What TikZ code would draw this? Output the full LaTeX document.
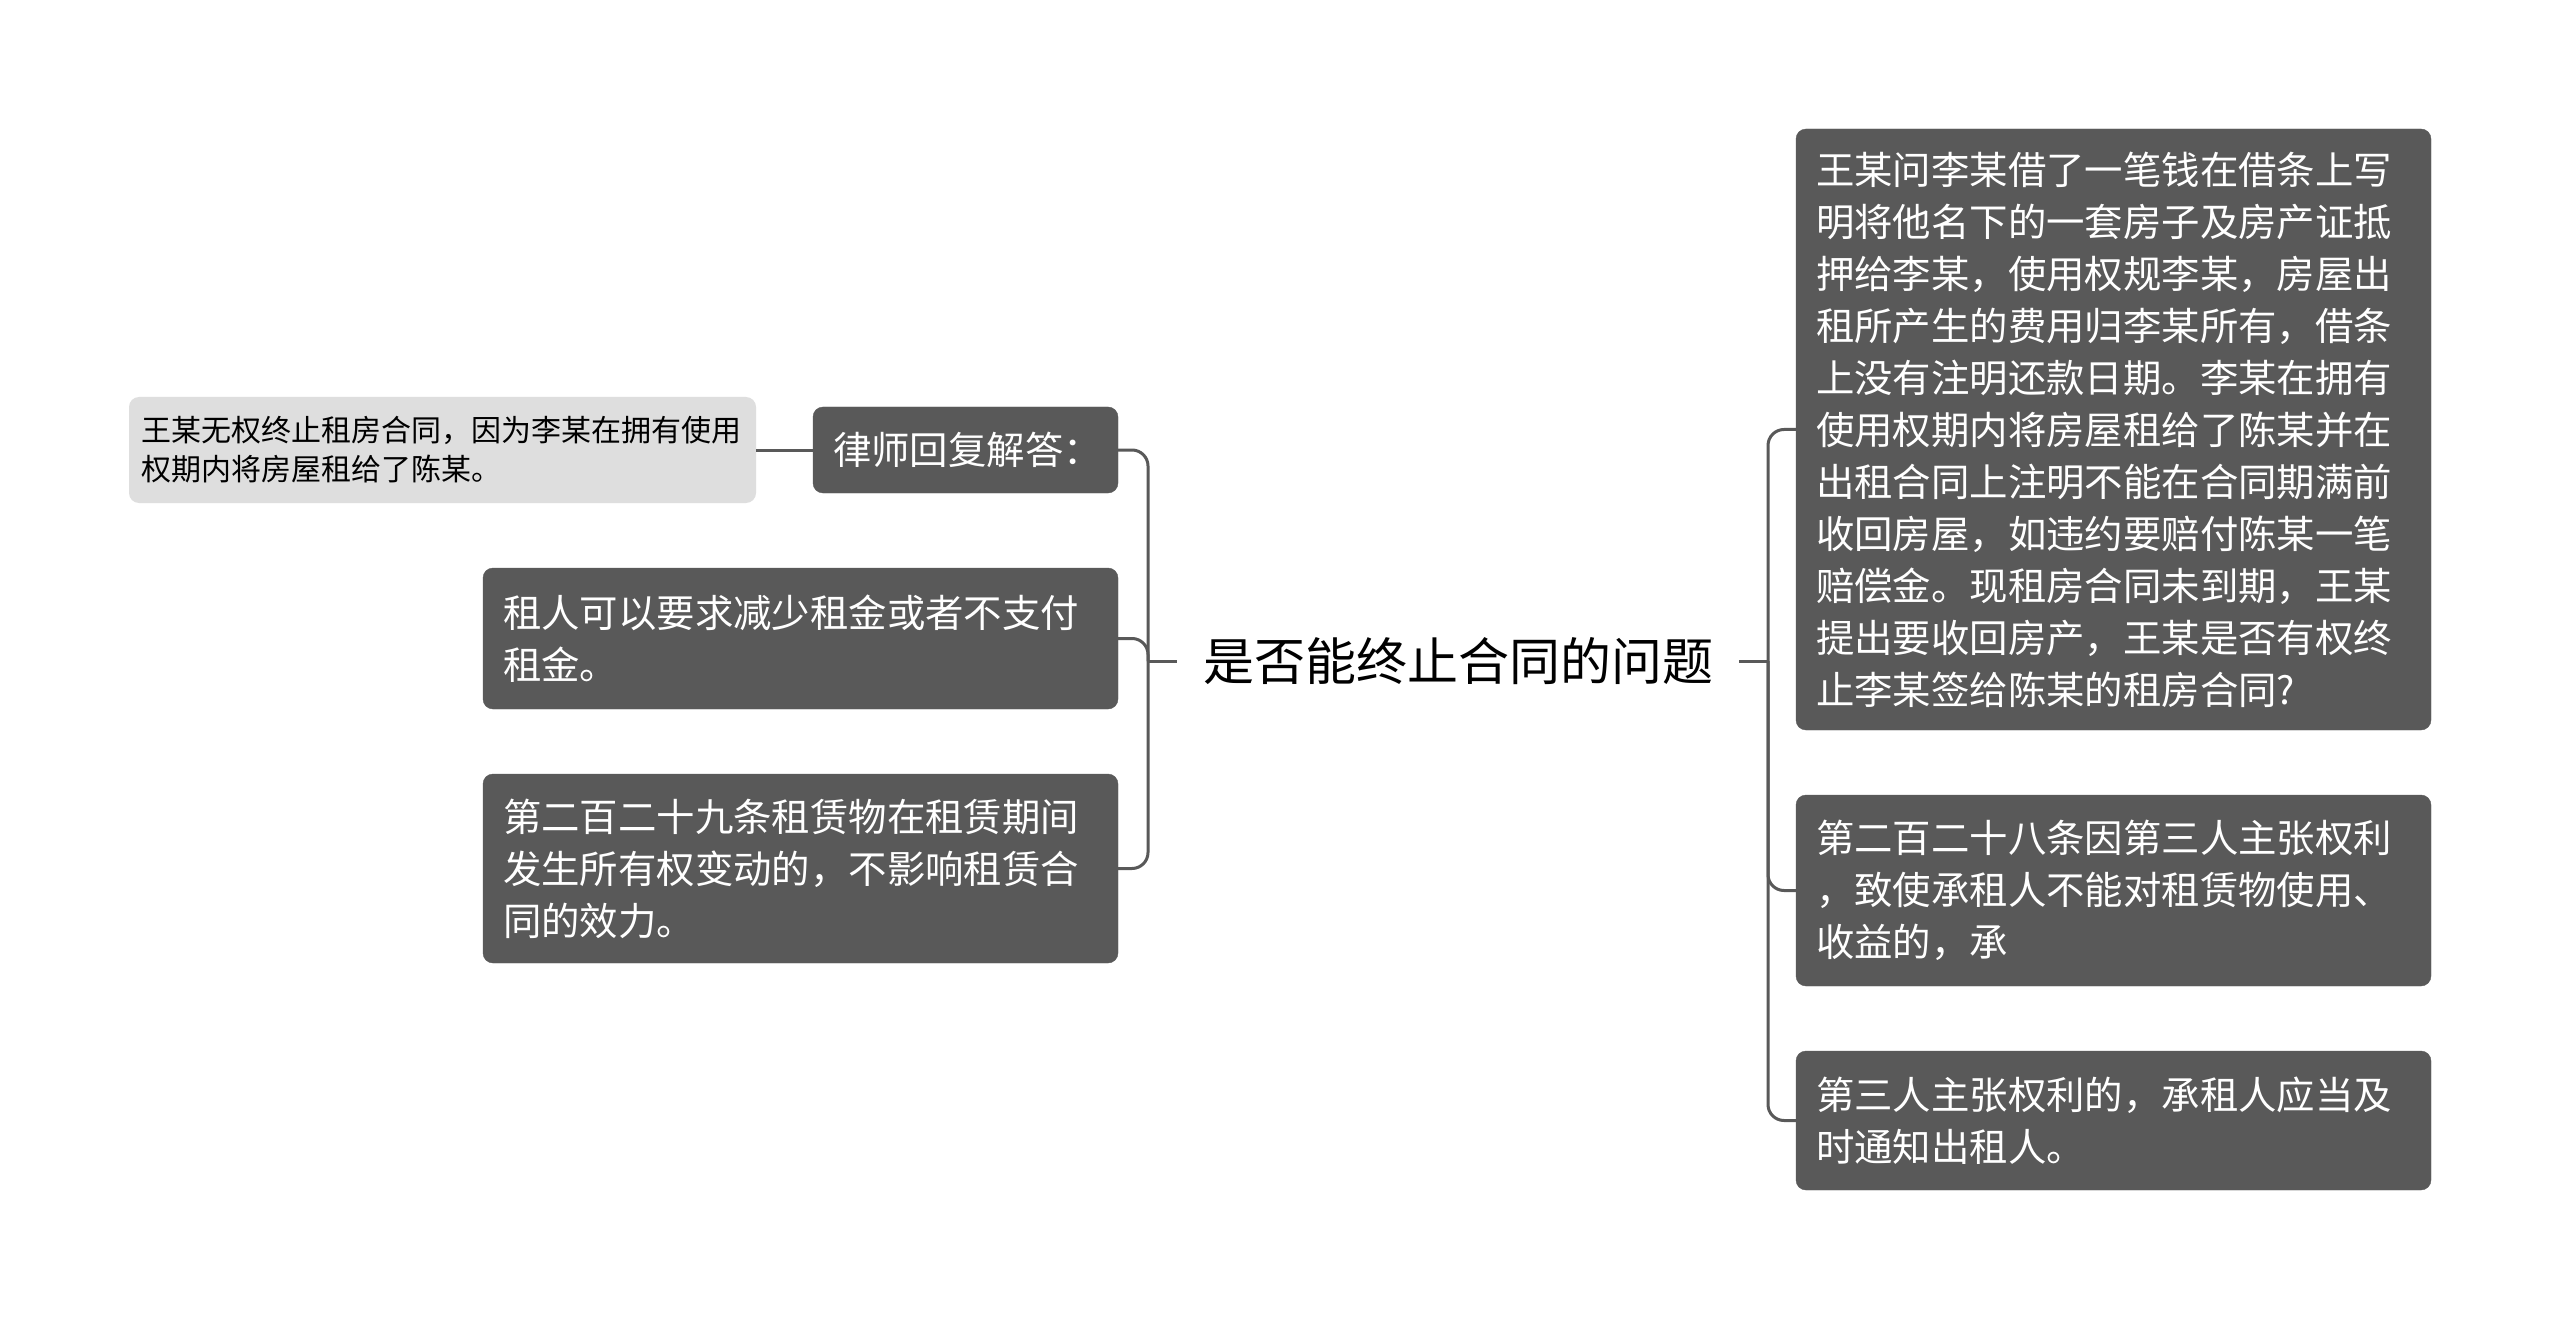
\documentclass[tikz,border=0pt]{standalone}
\usepackage{fontspec}
\setmainfont{Noto Sans CJK SC}
\definecolor{boxc}{HTML}{595959}
\definecolor{lightc}{HTML}{DEDEDE}
\tikzset{
  dbox/.style={fill=boxc, draw=boxc, rounded corners=10pt, text=white, align=left,
    inner xsep=20pt, inner ysep=0pt, text width=595pt, minimum width=635pt,
    font=\fontsize{38.4}{52}\selectfont},
  lbox/.style={fill=lightc, rounded corners=10pt, text=black, align=left,
    inner xsep=12.5pt, inner ysep=0pt, text width=602pt, minimum width=627pt,
    font=\fontsize{30}{39}\selectfont},
  rootnode/.style={text=black, inner xsep=26pt, inner ysep=6pt, font=\fontsize{51}{60}\selectfont},
  conn/.style={draw=boxc, line width=3pt},
}
\begin{document}
\begin{tikzpicture}[x=1pt,y=-1pt]
\fill[white] (0,0) rectangle (2560,1321);
\useasboundingbox (0,0) rectangle (2560,1321);

% root
\node[rootnode] (root) at (1458,661) {是否能终止合同的问题};

% left side
\node[dbox, text width=265pt, minimum width=305pt, minimum height=86pt] (lawyer) at (965.5,450) {律师回复解答：};
\node[lbox, minimum height=106pt] (grey) at (442.5,450) {王某无权终止租房合同，因为李某在拥有使用\\权期内将房屋租给了陈某。};
\node[dbox, minimum height=141pt] (l2) at (800.5,638.5) {租人可以要求减少租金或者不支付\\租金。};
\node[dbox, minimum height=189pt] (l3) at (800.5,868.5) {第二百二十九条租赁物在租赁期间\\发生所有权变动的，不影响租赁合\\同的效力。};

% right side
\node[dbox, minimum height=601pt] (r1) at (2113.5,429.5) {王某问李某借了一笔钱在借条上写\\明将他名下的一套房子及房产证抵\\押给李某，使用权规李某，房屋出\\租所产生的费用归李某所有，借条\\上没有注明还款日期。李某在拥有\\使用权期内将房屋租给了陈某并在\\出租合同上注明不能在合同期满前\\收回房屋，如违约要赔付陈某一笔\\赔偿金。现租房合同未到期，王某\\提出要收回房产，王某是否有权终\\止李某签给陈某的租房合同?};
\node[dbox, minimum height=191pt] (r2) at (2113.5,890.5) {第二百二十八条因第三人主张权利\\，致使承租人不能对租赁物使用、\\收益的，承};
\node[dbox, minimum height=139pt] (r3) at (2113.5,1120.5) {第三人主张权利的，承租人应当及\\时通知出租人。};

% connectors
\coordinate (lj) at (1148,661);
\coordinate (rj) at (1768,661);
\draw[conn] (root.west) -- (lj);
\draw[conn, rounded corners=16pt] (lj) |- (lawyer.east);
\draw[conn, rounded corners=16pt] (lj) |- (l2.east);
\draw[conn, rounded corners=16pt] (lj) |- (l3.east);
\draw[conn] (grey.east) -- (lawyer.west);

\draw[conn] (root.east) -- (rj);
\draw[conn, rounded corners=16pt] (rj) |- (r1.west);
\draw[conn, rounded corners=16pt] (rj) |- (r2.west);
\draw[conn, rounded corners=16pt] (rj) |- (r3.west);
\end{tikzpicture}
\end{document}
